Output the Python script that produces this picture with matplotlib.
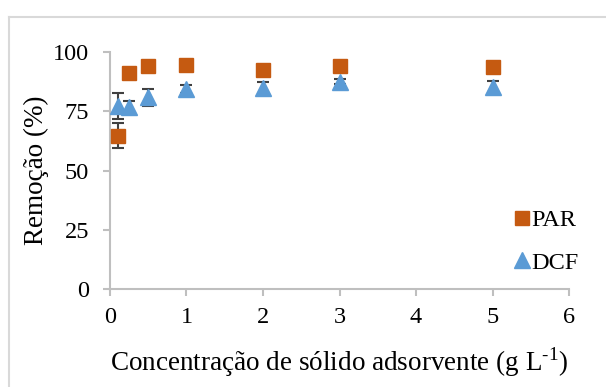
import numpy as np
import matplotlib
matplotlib.use('Agg')
from matplotlib import pyplot as plt
from matplotlib.lines import Line2D

# solid dose (g/L) and removal (%) with std deviations
dose = [0.1, 0.25, 0.5, 1, 2, 3, 5]
par = [64.7, 91.0, 94.1, 94.5, 92.4, 94.2, 93.5]
par_err = [5.3, 0.8, 0.8, 0.8, 0.8, 0.8, 0.8]
dcf = [77.2, 76.8, 80.9, 84.3, 84.9, 87.5, 85.4]
dcf_err = [5.5, 2.5, 3.7, 1.7, 2.3, 1.0, 2.4]

plt.rcParams['font.family'] = ['Liberation Serif', 'DejaVu Serif']
plt.rcParams['mathtext.fontset'] = 'custom'
plt.rcParams['mathtext.rm'] = 'Liberation Serif'

fig = plt.figure(figsize=(6.06, 3.87), dpi=100)
ax = fig.add_axes([0.1815, 0.2532, 0.939 - 0.1815, 0.8656 - 0.2532])

# chart frame (left and top edges only)
edge = '#d9d9d9'
fig.add_artist(Line2D([0.0149, 1.0], [0.956, 0.956], color=edge, lw=1.5))
fig.add_artist(Line2D([0.0149, 0.0149], [0.0, 0.956], color=edge, lw=1.5))

ax.errorbar(dose, par, yerr=par_err, fmt='none', ecolor='#404040',
            elinewidth=1.5, capsize=4, capthick=1.5, zorder=2)
ax.errorbar(dose, dcf, yerr=dcf_err, fmt='none', ecolor='#404040',
            elinewidth=1.5, capsize=4, capthick=1.5, zorder=2)
ax.plot(dose, par, 's', color='#C55A11', markersize=10.5, mec='#C55A11',
        label='PAR', zorder=3)
ax.plot(dose, dcf, '^', color='#5B9BD5', markersize=11, mec='#5B9BD5',
        label='DCF', zorder=4)

ax.set_xlim(0, 6)
ax.set_ylim(0, 100)
ax.set_xticks(range(0, 7))
ax.set_yticks([0, 25, 50, 75, 100])

for s in ['top', 'right']:
    ax.spines[s].set_visible(False)
for s in ['left', 'bottom']:
    ax.spines[s].set_color('#bfbfbf')
    ax.spines[s].set_linewidth(1.5)
ax.tick_params(color='#bfbfbf', width=1.5, length=5, labelsize=17.5,
               labelcolor='#000000')
ax.tick_params(axis='y', pad=10)
ax.tick_params(axis='x', pad=8)

ax.set_xlabel('Concentração de sólido adsorvente (g L$^{\\text{-1}}$)',
              fontsize=19.5, labelpad=12)
ax.set_ylabel('Remoção (%)', fontsize=19.5, labelpad=3)

ax.legend(loc='center left', bbox_to_anchor=(0.855, 0.2), frameon=False,
          fontsize=17.5, handlelength=0.6, handletextpad=0.1, labelspacing=0.85,
          borderpad=0)

fig.savefig('out.png', dpi=100)
